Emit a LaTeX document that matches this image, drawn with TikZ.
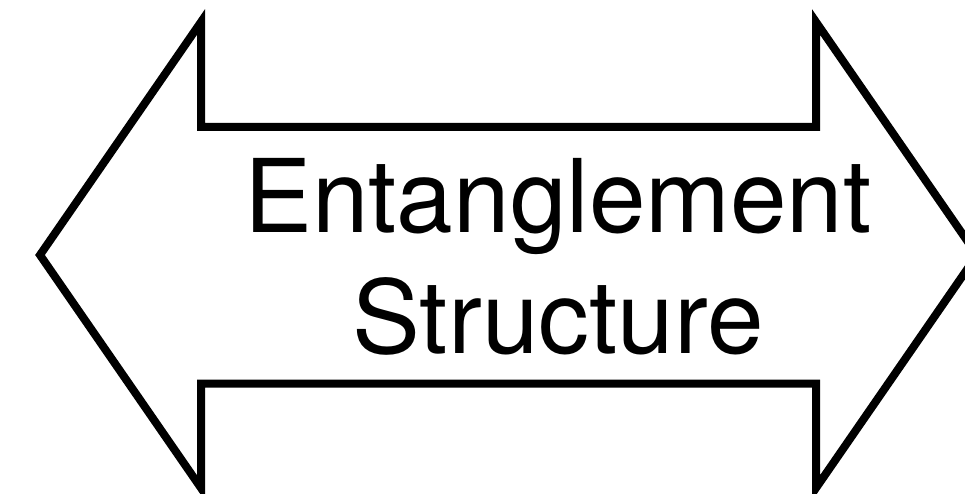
\documentclass[tikz,border=0pt]{standalone}
\usepackage{fontspec}
\setmainfont{TeX Gyre Heros}
\begin{document}
\begin{tikzpicture}[x=1pt,y=-1pt,
  outline/.style={draw=black,line width=8pt,line join=miter,miter limit=10},
  label/.style={anchor=base,inner sep=0pt,font=\fontsize{101.7}{120}\selectfont}]
\useasboundingbox (0,0) rectangle (965,494);
\clip (0,0) rectangle (965,494);
\coordinate (ltip) at (40,255);
\coordinate (rtip) at (977,255);
\draw[outline] (ltip) -- (201,22) -- (201,127) -- (816,127) -- (816,22) -- (rtip)
  -- (816,488) -- (816,383.5) -- (201,383.5) -- (201,488) -- cycle;
\node[label] (l1) at (558,233) {Entanglement};
\node[label] (l2) at (558,353) {Structure};
\end{tikzpicture}
\end{document}
